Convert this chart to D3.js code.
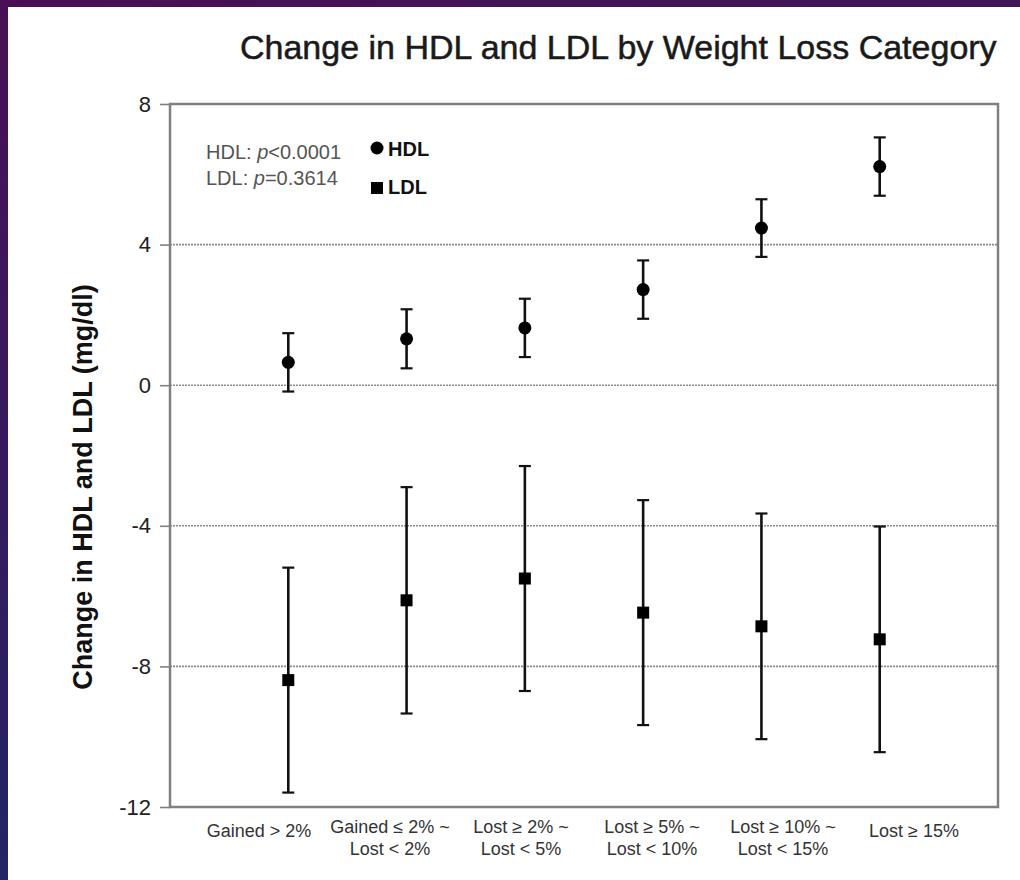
<!DOCTYPE html>
<html>
<head>
<meta charset="utf-8">
<script src="https://cdn.jsdelivr.net/npm/d3@7"></script>
<style>
  html, body { margin: 0; padding: 0; background: #fff; }
  svg { display: block; font-family: "Liberation Sans", Arial, sans-serif; }
</style>
</head>
<body>
<svg id="chart" width="1020" height="880"></svg>
<script>
// Weight-loss categories (each entry split into its label lines)
const categories = ["Gained > 2%", "Gained ≤ 2% ~|Lost < 2%", "Lost ≥ 2% ~|Lost < 5%",
                    "Lost ≥ 5% ~|Lost < 10%", "Lost ≥ 10% ~|Lost < 15%", "Lost ≥ 15%"];

// Mean change (mg/dl) and error half-widths
const hdlMean = [0.65, 1.32, 1.63, 2.72, 4.47, 6.22];
const hdlErr  = [0.83, 0.84, 0.83, 0.83, 0.82, 0.83];
const ldlMean = [-8.39, -6.12, -5.50, -6.47, -6.86, -7.23];
const ldlErr  = [3.20, 3.22, 3.20, 3.20, 3.21, 3.21];

const yTicks = [-12, -8, -4, 0, 4, 8];
const gridValues = [-8, -4, 0, 4];

const svg = d3.select("#chart");
const W = 1020, H = 880;

// slide-style frame
const defs = svg.append("defs");
const grad = defs.append("linearGradient").attr("id", "frameGrad")
  .attr("x1", "0").attr("y1", "0").attr("x2", "0.3").attr("y2", "1");
grad.append("stop").attr("offset", "0%").attr("stop-color", "#4a0f55");
grad.append("stop").attr("offset", "100%").attr("stop-color", "#1f2766");
svg.append("rect").attr("width", W).attr("height", H).attr("fill", "url(#frameGrad)");
svg.append("rect").attr("x", 8).attr("y", 7).attr("width", W - 8).attr("height", H - 7).attr("fill", "#fff");

const plot = { left: 170, right: 998, top: 104, bottom: 807 };

const x = d3.scalePoint().domain(categories).range([plot.left, plot.right]).padding(1);
const xLabel = d3.scalePoint().domain(categories).range([259, 914]);
const y = d3.scaleLinear().domain([-12, 8]).range([plot.bottom, plot.top]);

// title
svg.append("text")
  .attr("x", 240).attr("y", 59)
  .attr("font-size", 34).attr("fill", "#1a1a1a")
  .attr("stroke", "#1a1a1a").attr("stroke-width", 0.5)
  .text("Change in HDL and LDL by Weight Loss Category");

// dotted gridlines
svg.append("g").selectAll("line").data(gridValues).join("line")
  .attr("x1", plot.left).attr("x2", plot.right)
  .attr("y1", d => y(d)).attr("y2", d => y(d))
  .attr("stroke", "#8a8a8a").attr("stroke-width", 1.6)
  .attr("stroke-dasharray", "2,1");

// y axis
const yAxis = d3.axisLeft(y).tickValues(yTicks).tickSize(10).tickPadding(9).tickFormat(d3.format("d"));
const gy = svg.append("g").attr("transform", `translate(${plot.left},0)`).call(yAxis);
gy.select(".domain").remove();
gy.selectAll(".tick line").attr("stroke", "#808080").attr("stroke-width", 1.6);
gy.selectAll(".tick text")
  .attr("font-family", "Liberation Sans, Arial, sans-serif")
  .attr("font-size", 22).attr("fill", "#222")
  .text(d => d < 0 ? "-" + Math.abs(d) : d);

// plot frame
svg.append("rect")
  .attr("x", plot.left).attr("y", plot.top)
  .attr("width", plot.right - plot.left).attr("height", plot.bottom - plot.top)
  .attr("fill", "none").attr("stroke", "#808080").attr("stroke-width", 2.5);

// y axis title
svg.append("text")
  .attr("transform", `translate(92,487) rotate(-90)`)
  .attr("text-anchor", "middle")
  .attr("font-size", 27).attr("font-weight", "bold").attr("fill", "#111")
  .text("Change in HDL and LDL (mg/dl)");

// category labels
const lab = svg.append("g").selectAll("text").data(categories).join("text")
  .attr("text-anchor", "middle")
  .attr("font-size", 18).attr("fill", "#333");
lab.each(function(d) {
  const lines = d.split("|");
  const t = d3.select(this);
  lines.forEach((ln, i) => {
    t.append("tspan")
      .attr("x", xLabel(d))
      .attr("y", lines.length === 1 ? 837 : 833 + i * 22)
      .text(ln);
  });
});

// error bars + markers
function series(means, errs, shape) {
  const data = means.map((m, i) => ({ c: categories[i], m, e: errs[i] }));
  const g = svg.append("g");
  const cap = 6;
  g.selectAll(".bar").data(data).join("line")
    .attr("x1", d => x(d.c)).attr("x2", d => x(d.c))
    .attr("y1", d => y(d.m - d.e)).attr("y2", d => y(d.m + d.e))
    .attr("stroke", "#111").attr("stroke-width", 2.6);
  ["lo", "hi"].forEach(k => {
    g.selectAll(".cap" + k).data(data).join("line")
      .attr("x1", d => x(d.c) - cap).attr("x2", d => x(d.c) + cap)
      .attr("y1", d => y(k === "lo" ? d.m - d.e : d.m + d.e))
      .attr("y2", d => y(k === "lo" ? d.m - d.e : d.m + d.e))
      .attr("stroke", "#111").attr("stroke-width", 2.2);
  });
  if (shape === "circle") {
    g.selectAll("circle").data(data).join("circle")
      .attr("cx", d => x(d.c)).attr("cy", d => y(d.m)).attr("r", 6.5).attr("fill", "#000");
  } else {
    g.selectAll("rect").data(data).join("rect")
      .attr("x", d => x(d.c) - 6).attr("y", d => y(d.m) - 6)
      .attr("width", 12).attr("height", 12).attr("fill", "#000");
  }
}
series(hdlMean, hdlErr, "circle");
series(ldlMean, ldlErr, "square");

// legend with p-values
const stats = svg.append("g").attr("font-size", 20).attr("fill", "#555");
const s1 = stats.append("text").attr("x", 206).attr("y", 159);
s1.append("tspan").text("HDL: ");
s1.append("tspan").attr("font-style", "italic").text("p");
s1.append("tspan").text("<0.0001");
const s2 = stats.append("text").attr("x", 206).attr("y", 185);
s2.append("tspan").text("LDL: ");
s2.append("tspan").attr("font-style", "italic").text("p");
s2.append("tspan").text("=0.3614");

svg.append("circle").attr("cx", 377).attr("cy", 148).attr("r", 6.5).attr("fill", "#000");
svg.append("rect").attr("x", 371).attr("y", 182).attr("width", 12).attr("height", 12).attr("fill", "#000");
svg.append("text").attr("x", 388).attr("y", 156).attr("font-size", 20).attr("font-weight", "bold").attr("fill", "#111").text("HDL");
svg.append("text").attr("x", 388).attr("y", 194).attr("font-size", 20).attr("font-weight", "bold").attr("fill", "#111").text("LDL");
</script>
</body>
</html>
